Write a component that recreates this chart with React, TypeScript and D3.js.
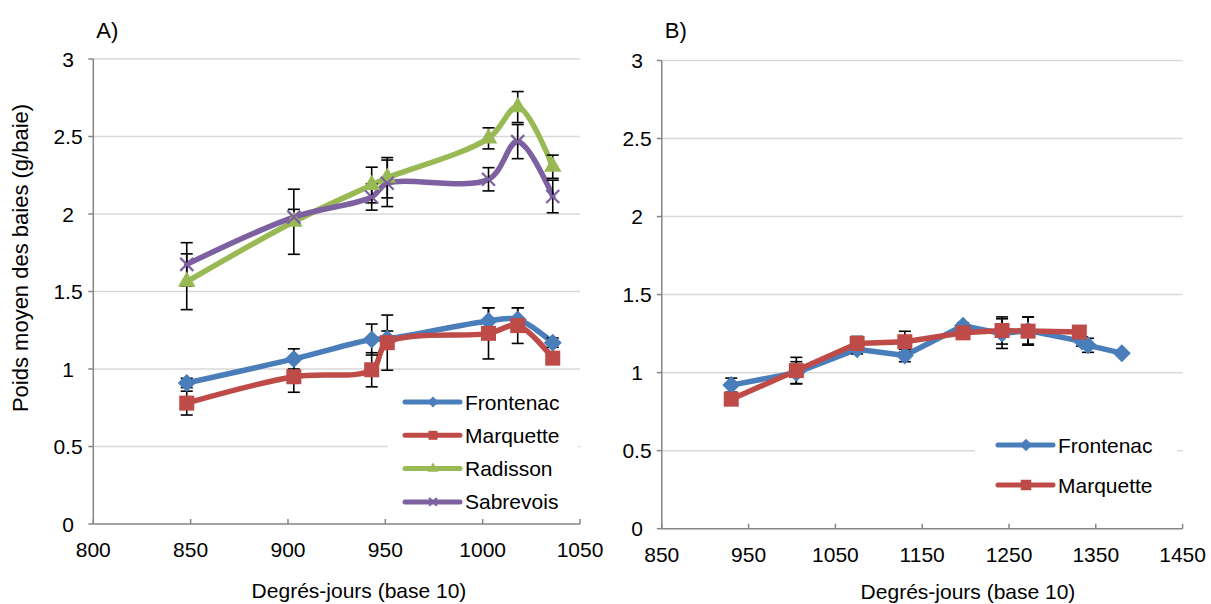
import { useEffect, useRef } from 'react';
import * as d3 from 'd3';

// Panel A – 4 cultivars
const xA = [848, 903, 943, 951, 1003, 1018, 1036];
const frontenacA = [0.91, 1.065, 1.19, 1.195, 1.31, 1.32, 1.17];
const frontenacErrA = [0.03, 0.065, 0.1, 0.05, 0.085, 0.075, 0.03];
const marquetteA = [0.78, 0.95, 0.995, 1.17, 1.23, 1.28, 1.07];
const marquetteErrA = [0.077, 0.1, 0.11, 0.178, 0.165, 0.115, 0.03];
const radissonA = [1.563, 1.95, 2.187, 2.234, 2.488, 2.69, 2.305];
const radissonErrA = [0.18, 0.21, 0.115, 0.13, 0.068, 0.1, 0.075];
const sabrevoisA = [1.675, 1.98, 2.11, 2.198, 2.224, 2.467, 2.113];
const sabrevoisErrA = [0.14, 0.05, 0.085, 0.15, 0.075, 0.11, 0.105];

// Panel B – 2 cultivars
const xFrontenacB = [930, 1005, 1075, 1130, 1197, 1242, 1272, 1334, 1341, 1380];
const frontenacB = [0.92, 1.0, 1.15, 1.11, 1.3, 1.25, 1.27, 1.2, 1.175, 1.125];
const frontenacErrB = [0.045, 0.07, 0.03, 0.04, 0.02, 0.095, 0.087, 0.03, 0.045, 0.012];
const xMarquetteB = [930, 1005, 1075, 1130, 1197, 1242, 1272, 1331];
const marquetteB = [0.83, 1.013, 1.187, 1.198, 1.255, 1.27, 1.266, 1.26];
const marquetteErrB = [0.03, 0.085, 0.045, 0.067, 0.02, 0.087, 0.09, 0.02];

const yTicks = [0, 0.5, 1, 1.5, 2, 2.5, 3];
const xTicksA = [800, 850, 900, 950, 1000, 1050];
const xTicksB = [850, 950, 1050, 1150, 1250, 1350, 1450];

const FONT = "'Liberation Sans', Arial, sans-serif";
const COLORS: Record<string, string> = {
  Frontenac: '#4a7ebb',
  Marquette: '#be4b48',
  Radisson: '#98b954',
  Sabrevois: '#7d60a0',
};
const MARKERS: Record<string, string> = {
  Frontenac: 'diamond',
  Marquette: 'square',
  Radisson: 'triangle',
  Sabrevois: 'cross',
};

function drawMarker(g: any, kind: string, x: number, y: number, color: string, scale = 1) {
  if (kind === 'diamond') {
    const r = 9 * scale;
    g.append('path')
      .attr('d', `M${x},${y - r}L${x + r},${y}L${x},${y + r}L${x - r},${y}Z`)
      .attr('fill', color);
  } else if (kind === 'square') {
    const r = 7.5 * scale;
    g.append('rect')
      .attr('x', x - r).attr('y', y - r)
      .attr('width', 2 * r).attr('height', 2 * r)
      .attr('fill', color);
  } else if (kind === 'triangle') {
    g.append('path')
      .attr('d', d3.symbol().type(d3.symbolTriangle).size(135 * scale * scale)())
      .attr('transform', `translate(${x},${y})`)
      .attr('fill', color);
  } else {
    const r = 6.5 * scale;
    g.append('path')
      .attr('d', `M${x - r},${y - r}L${x + r},${y + r}M${x - r},${y + r}L${x + r},${y - r}`)
      .attr('stroke', color)
      .attr('stroke-width', 2.2)
      .attr('fill', 'none');
  }
}

export default function App() {
  const svgRef = useRef<SVGSVGElement>(null);

  useEffect(() => {
    const svg = d3.select(svgRef.current);
    svg.selectAll('*').remove();

    const panel = (opts: any) => {
      const { left, right, top, bottom, xDomain, xTicks, series, curve, legend, letter, titleX, titleY, yLabelX } = opts;
      const x = d3.scaleLinear().domain(xDomain).range([left, right]);
      const y = d3.scaleLinear().domain([0, 3]).range([bottom, top]);
      const g = svg.append('g');

      // gridlines
      g.selectAll('.grid')
        .data(yTicks.slice(1))
        .enter().append('line')
        .attr('x1', left).attr('x2', right)
        .attr('y1', d => y(d)).attr('y2', d => y(d))
        .attr('stroke', '#d9d9d9').attr('stroke-width', 1.5);

      // axes
      g.append('line')
        .attr('x1', left).attr('x2', left).attr('y1', top).attr('y2', bottom)
        .attr('stroke', '#868686').attr('stroke-width', 1.5);
      g.append('line')
        .attr('x1', left).attr('x2', right).attr('y1', bottom).attr('y2', bottom)
        .attr('stroke', '#868686').attr('stroke-width', 1.5);
      g.selectAll('.yt')
        .data(yTicks)
        .enter().append('line')
        .attr('x1', left - 5).attr('x2', left)
        .attr('y1', d => y(d)).attr('y2', d => y(d))
        .attr('stroke', '#868686').attr('stroke-width', 1.5);
      g.selectAll('.xt')
        .data(xTicks)
        .enter().append('line')
        .attr('x1', d => x(d)).attr('x2', d => x(d))
        .attr('y1', bottom - 5).attr('y2', bottom)
        .attr('stroke', '#868686').attr('stroke-width', 1.5);

      g.selectAll('.yl')
        .data(yTicks)
        .enter().append('text')
        .attr('x', yLabelX).attr('y', d => y(d))
        .attr('dy', '0.36em')
        .attr('text-anchor', 'middle')
        .style('font-family', FONT).style('font-size', '21px').attr('fill', '#000')
        .text(d => String(d));
      g.selectAll('.xl')
        .data(xTicks)
        .enter().append('text')
        .attr('x', d => x(d)).attr('y', bottom + 33)
        .attr('text-anchor', 'middle')
        .style('font-family', FONT).style('font-size', '21px').attr('fill', '#000')
        .text(d => String(d));

      g.append('text')
        .attr('x', titleX).attr('y', titleY)
        .attr('text-anchor', 'middle')
        .style('font-family', FONT).style('font-size', '21px')
        .text('Degrés-jours (base 10)');

      g.append('text')
        .attr('x', left + 3).attr('y', 38)
        .style('font-family', FONT).style('font-size', '22px')
        .text(letter);

      // legend box (covers gridlines)
      g.append('rect')
        .attr('x', legend.x).attr('y', legend.y)
        .attr('width', legend.w).attr('height', legend.h)
        .attr('fill', '#fff');

      // series lines
      series.forEach((s: any) => {
        const pts = s.xs.map((xv: number, i: number) => [x(xv), y(s.ys[i])]);
        g.append('path')
          .attr('d', d3.line().curve(curve)(pts))
          .attr('fill', 'none')
          .attr('stroke', COLORS[s.name])
          .attr('stroke-width', 5.5)
          .attr('stroke-linejoin', 'round')
          .attr('stroke-linecap', 'round');
      });

      // error bars
      series.forEach((s: any) => {
        s.xs.forEach((xv: number, i: number) => {
          const cx = x(xv);
          const y1 = y(s.ys[i] + s.err[i]);
          const y2 = y(s.ys[i] - s.err[i]);
          g.append('line').attr('x1', cx).attr('x2', cx).attr('y1', y1).attr('y2', y2)
            .attr('stroke', '#000').attr('stroke-width', 1.6);
          [y1, y2].forEach(yy => {
            g.append('line').attr('x1', cx - 6).attr('x2', cx + 6).attr('y1', yy).attr('y2', yy)
              .attr('stroke', '#000').attr('stroke-width', 1.6);
          });
        });
      });

      // markers
      series.forEach((s: any) => {
        s.xs.forEach((xv: number, i: number) => {
          drawMarker(g, MARKERS[s.name], x(xv), y(s.ys[i]), COLORS[s.name]);
        });
      });

      // legend entries
      series.forEach((s: any, i: number) => {
        const ly = legend.firstY + i * legend.step;
        g.append('line')
          .attr('x1', legend.lineX).attr('x2', legend.lineX + 55)
          .attr('y1', ly).attr('y2', ly)
          .attr('stroke', COLORS[s.name]).attr('stroke-width', 5)
          .attr('stroke-linecap', 'round');
        drawMarker(g, MARKERS[s.name], legend.lineX + 28, ly, COLORS[s.name], legend.mScale);
        g.append('text')
          .attr('x', legend.lineX + 60).attr('y', ly)
          .attr('dy', '0.36em')
          .style('font-family', FONT).style('font-size', '21px')
          .text(s.name);
      });
    };

    panel({
      left: 93.3, right: 580, top: 59, bottom: 524,
      xDomain: [800, 1050], xTicks: xTicksA,
      curve: d3.curveCatmullRom.alpha(0.5),
      letter: 'A)', titleX: 359, titleY: 598, yLabelX: 68,
      legend: { x: 388, y: 385, w: 190, h: 133, lineX: 405, firstY: 402, step: 33.3, mScale: 0.6 },
      series: [
        { name: 'Frontenac', xs: xA, ys: frontenacA, err: frontenacErrA },
        { name: 'Marquette', xs: xA, ys: marquetteA, err: marquetteErrA },
        { name: 'Radisson', xs: xA, ys: radissonA, err: radissonErrA },
        { name: 'Sabrevois', xs: xA, ys: sabrevoisA, err: sabrevoisErrA },
      ],
    });

    panel({
      left: 661.8, right: 1182.6, top: 60.5, bottom: 528.7,
      xDomain: [850, 1450], xTicks: xTicksB,
      curve: d3.curveLinear,
      letter: 'B)', titleX: 968, titleY: 599, yLabelX: 637,
      legend: { x: 975, y: 425, w: 202, h: 80, lineX: 998, firstY: 445, step: 40, mScale: 0.7 },
      series: [
        { name: 'Frontenac', xs: xFrontenacB, ys: frontenacB, err: frontenacErrB },
        { name: 'Marquette', xs: xMarquetteB, ys: marquetteB, err: marquetteErrB },
      ],
    });

    // shared y title
    svg.append('text')
      .attr('transform', 'translate(20,258) rotate(-90)')
      .attr('text-anchor', 'middle')
      .attr('dy', '0.35em')
      .style('font-family', FONT).style('font-size', '22px')
      .text('Poids moyen des baies (g/baie)');
  }, []);

  return (
    <svg
      ref={svgRef}
      width={1211}
      height={604}
      style={{ position: 'absolute', left: 0, top: 0, background: '#fff' }}
    ></svg>
  );
}
